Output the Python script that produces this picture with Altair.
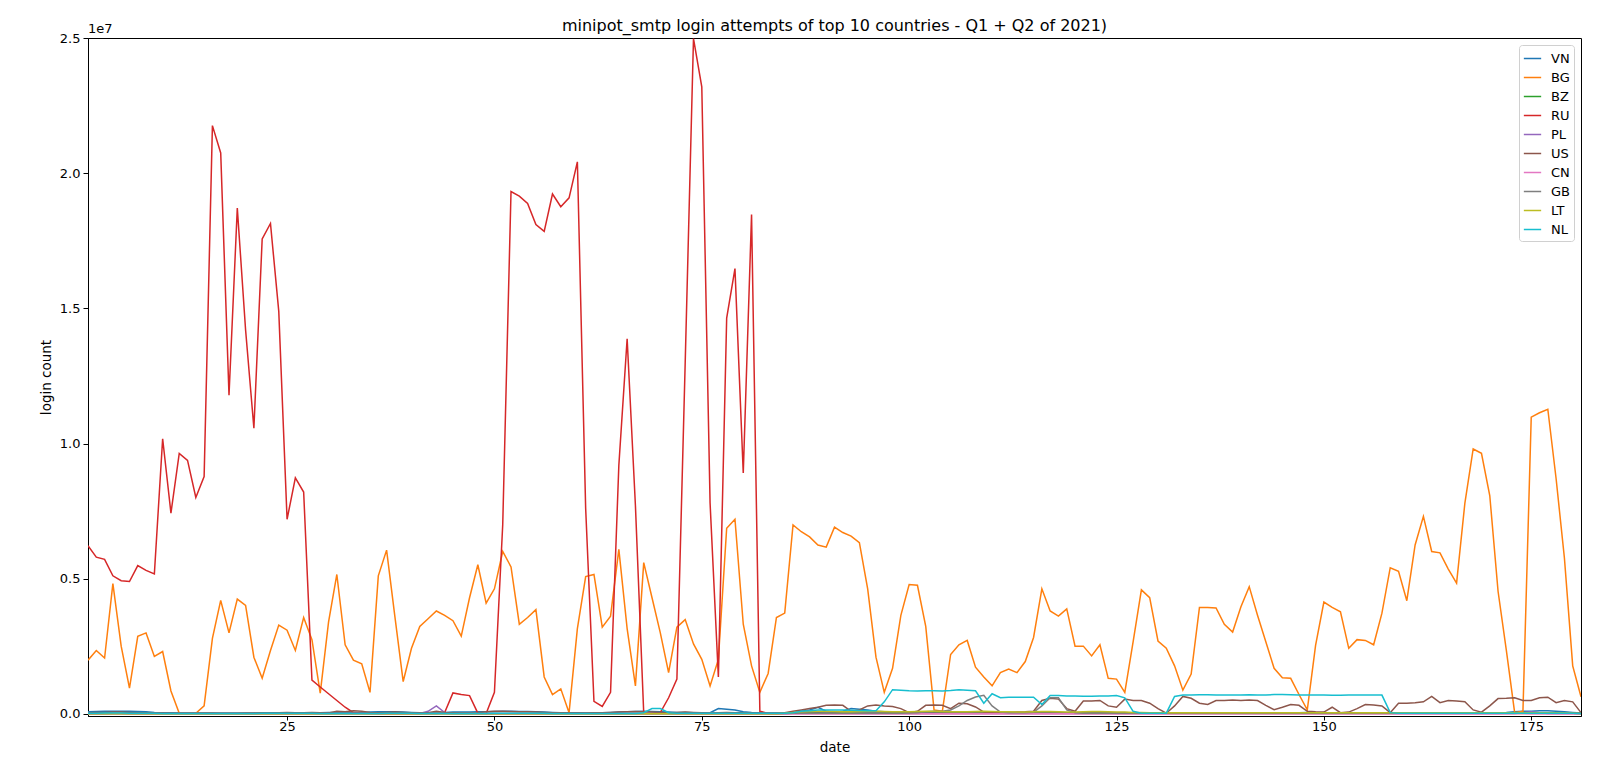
import altair as alt
import pandas as pd

days = list(range(1, 182))
countries = ["VN", "BG", "BZ", "RU", "PL", "US", "CN", "GB", "LT", "NL"]
colors = ["#1f77b4", "#ff7f0e", "#2ca02c", "#d62728", "#9467bd",
          "#8c564b", "#e377c2", "#7f7f7f", "#bcbd22", "#17becf"]
x_ticks = [25, 50, 75, 100, 125, 150, 175]
y_ticks = [0, 5e6, 1e7, 1.5e7, 2e7, 2.5e7]

# values in millions of login attempts, day 1..181
RU = [6.22, 5.80, 5.72, 5.11, 4.93, 4.90, 5.49, 5.31, 5.18, 10.18,
      7.43, 9.64, 9.38, 8.01, 8.78, 21.76, 20.75, 11.79, 18.71, 14.2,
      10.57, 17.57, 18.14, 14.89, 7.2, 8.73, 8.21, 1.25, 1.0, 0.75,
      0.5, 0.25, 0.05, 0.03, 0.03, 0.02, 0.03, 0.02, 0.03, 0.02,
      0.02, 0.03, 0.02, 0.05, 0.78, 0.72, 0.68, 0.03, 0.02, 0.8,
      7.0, 19.32, 19.15, 18.88, 18.1, 17.85, 19.23, 18.76, 19.09, 20.42,
      7.6, 0.47, 0.28, 0.8, 9.2, 13.88, 7.7, 0.03, 0.02, 0.05,
      0.6, 1.29, 13.0, 24.98, 23.19, 7.8, 1.37, 14.64, 16.47, 8.91,
      18.47, 0.1, 0.02, 0.02, 0.02, 0.02, 0.02, 0.02, 0.02, 0.02,
      0.02, 0.02, 0.02, 0.02, 0.02, 0.02, 0.02, 0.02, 0.02, 0.02,
      0.02, 0.02, 0.02, 0.02, 0.02, 0.02, 0.02, 0.02, 0.02, 0.02,
      0.02, 0.02, 0.02, 0.02, 0.02, 0.02, 0.02, 0.02, 0.02, 0.02,
      0.02, 0.02, 0.02, 0.02, 0.02, 0.02, 0.02, 0.02, 0.02, 0.02,
      0.02, 0.02, 0.02, 0.02, 0.02, 0.02, 0.02, 0.02, 0.02, 0.02,
      0.02, 0.02, 0.02, 0.02, 0.02, 0.02, 0.02, 0.02, 0.02, 0.02,
      0.02, 0.02, 0.02, 0.02, 0.02, 0.02, 0.02, 0.02, 0.02, 0.02,
      0.02, 0.02, 0.02, 0.02, 0.02, 0.02, 0.02, 0.02, 0.02, 0.02,
      0.02, 0.02, 0.02, 0.02, 0.02, 0.02, 0.02, 0.02, 0.02, 0.02,
      0.02]

BG = [1.99, 2.35, 2.07, 4.82, 2.51, 0.96, 2.87, 3.0, 2.13, 2.31,
      0.85, 0.03, 0.02, 0.03, 0.3, 2.8, 4.2, 3.0, 4.25, 4.02,
      2.1, 1.32, 2.35, 3.29, 3.1, 2.35, 3.57, 2.75, 0.77, 3.4,
      5.16, 2.56, 1.99, 1.86, 0.8, 5.11, 6.06, 3.6, 1.2, 2.43,
      3.24, 3.52, 3.81, 3.65, 3.45, 2.88, 4.3, 5.52, 4.1, 4.63,
      6.01, 5.44, 3.32, 3.57, 3.86, 1.37, 0.72, 0.93, 0.05, 3.16,
      5.08, 5.16, 3.21, 3.62, 6.09, 3.16, 1.04, 5.6, 4.3, 3.0,
      1.53, 3.21, 3.49, 2.59, 2.02, 1.04, 2.02, 6.87, 7.2, 3.32,
      1.78, 0.8, 1.5, 3.57, 3.73, 6.99, 6.74, 6.55, 6.25, 6.17,
      6.91, 6.71, 6.58, 6.34, 4.63, 2.1, 0.8, 1.69, 3.65, 4.79,
      4.76, 3.24, 0.15, 0.1, 2.2, 2.56, 2.72, 1.73, 1.37, 1.04,
      1.53, 1.66, 1.53, 1.94, 2.83, 4.63, 3.81, 3.62, 3.89, 2.51,
      2.51, 2.15, 2.56, 1.32, 1.29, 0.8, 2.67, 4.59, 4.3, 2.7,
      2.43, 1.78, 0.88, 1.48, 3.94, 3.94, 3.92, 3.32, 3.03, 3.97,
      4.71, 3.65, 2.67, 1.69, 1.34, 1.32, 0.72, 0.15, 2.54, 4.14,
      3.94, 3.78, 2.43, 2.75, 2.72, 2.56, 3.73, 5.41, 5.28, 4.19,
      6.25, 7.31, 6.01, 5.96, 5.36, 4.84, 7.8, 9.8, 9.64, 8.08,
      4.54, 2.35, 0.05, 0.1, 10.98, 11.14, 11.27, 8.7, 5.77, 1.78,
      0.64]

US = [0.05, 0.06, 0.06, 0.07, 0.07, 0.06, 0.05, 0.05, 0.04, 0.04,
      0.03, 0.03, 0.03, 0.03, 0.04, 0.04, 0.03, 0.03, 0.03, 0.04,
      0.04, 0.05, 0.04, 0.05, 0.06, 0.05, 0.05, 0.06, 0.05, 0.04,
      0.1, 0.08, 0.12, 0.1, 0.06, 0.05, 0.06, 0.07, 0.06, 0.05,
      0.04, 0.05, 0.1, 0.06, 0.05, 0.04, 0.04, 0.05, 0.08, 0.1,
      0.1, 0.09, 0.08, 0.08, 0.07, 0.06, 0.05, 0.05, 0.04, 0.04,
      0.04, 0.05, 0.05, 0.06, 0.07, 0.08, 0.09, 0.08, 0.07, 0.06,
      0.05, 0.06, 0.07, 0.06, 0.05, 0.04, 0.05, 0.06, 0.05, 0.05,
      0.04, 0.03, 0.03, 0.04, 0.05, 0.1, 0.15, 0.2, 0.25, 0.32,
      0.33, 0.32, 0.1, 0.15, 0.3, 0.33, 0.3, 0.28, 0.2, 0.05,
      0.1, 0.32, 0.33, 0.32, 0.2, 0.4, 0.38, 0.26, 0.07, 0.05,
      0.05, 0.06, 0.07, 0.08, 0.1, 0.5, 0.58, 0.55, 0.2, 0.1,
      0.48, 0.48, 0.5, 0.3, 0.25, 0.55, 0.5, 0.5, 0.4, 0.2,
      0.03, 0.3, 0.65, 0.58, 0.4, 0.35, 0.5, 0.5, 0.52, 0.5,
      0.52, 0.5, 0.32, 0.16, 0.25, 0.35, 0.32, 0.1, 0.08, 0.07,
      0.25, 0.05, 0.07, 0.2, 0.35, 0.33, 0.3, 0.05, 0.4, 0.4,
      0.42, 0.45, 0.65, 0.42, 0.5, 0.48, 0.45, 0.15, 0.07, 0.3,
      0.57, 0.58, 0.6, 0.5, 0.5, 0.6, 0.62, 0.42, 0.5, 0.45,
      0.05]

NL = [0.03, 0.03, 0.04, 0.04, 0.04, 0.03, 0.03, 0.03, 0.03, 0.02,
      0.02, 0.02, 0.02, 0.02, 0.02, 0.02, 0.02, 0.02, 0.02, 0.02,
      0.02, 0.03, 0.03, 0.03, 0.03, 0.03, 0.03, 0.03, 0.02, 0.02,
      0.02, 0.02, 0.02, 0.02, 0.02, 0.02, 0.03, 0.03, 0.03, 0.03,
      0.02, 0.02, 0.02, 0.02, 0.02, 0.02, 0.02, 0.02, 0.02, 0.03,
      0.03, 0.03, 0.03, 0.03, 0.03, 0.03, 0.02, 0.02, 0.02, 0.02,
      0.02, 0.02, 0.02, 0.02, 0.02, 0.02, 0.02, 0.05, 0.2, 0.2,
      0.05, 0.03, 0.03, 0.03, 0.03, 0.03, 0.03, 0.03, 0.03, 0.03,
      0.03, 0.03, 0.03, 0.03, 0.03, 0.05, 0.1, 0.12, 0.15, 0.15,
      0.15, 0.15, 0.14, 0.13, 0.12, 0.12, 0.45, 0.9, 0.88, 0.86,
      0.85, 0.86, 0.86, 0.85, 0.87, 0.9, 0.88, 0.86, 0.4, 0.75,
      0.6, 0.62, 0.62, 0.62, 0.62, 0.35, 0.68, 0.68, 0.67, 0.67,
      0.66, 0.66, 0.67, 0.67, 0.68, 0.6, 0.1, 0.03, 0.03, 0.03,
      0.03, 0.65, 0.7, 0.7, 0.71, 0.71, 0.7, 0.7, 0.7, 0.7,
      0.71, 0.7, 0.7, 0.72, 0.72, 0.71, 0.7, 0.7, 0.7, 0.7,
      0.69, 0.69, 0.7, 0.7, 0.7, 0.7, 0.7, 0.05, 0.03, 0.03,
      0.03, 0.03, 0.03, 0.03, 0.03, 0.03, 0.03, 0.03, 0.03, 0.03,
      0.03, 0.03, 0.03, 0.03, 0.03, 0.03, 0.03, 0.03, 0.03, 0.03,
      0.02]

VN = [0.08, 0.09, 0.1, 0.1, 0.1, 0.1, 0.09, 0.08, 0.06, 0.05,
      0.05, 0.04, 0.04, 0.04, 0.03, 0.03, 0.03, 0.03, 0.03, 0.03,
      0.03, 0.04, 0.05, 0.05, 0.04, 0.05, 0.04, 0.05, 0.05, 0.06,
      0.06, 0.05, 0.05, 0.06, 0.07, 0.08, 0.08, 0.08, 0.07, 0.06,
      0.05, 0.05, 0.06, 0.06, 0.07, 0.07, 0.07, 0.08, 0.08, 0.09,
      0.1, 0.1, 0.09, 0.09, 0.08, 0.07, 0.06, 0.05, 0.05, 0.05,
      0.04, 0.04, 0.05, 0.06, 0.07, 0.08, 0.09, 0.1, 0.09, 0.08,
      0.07, 0.06, 0.06, 0.05, 0.04, 0.05, 0.2, 0.18, 0.15, 0.08,
      0.06, 0.05, 0.04, 0.03, 0.03, 0.05, 0.1, 0.15, 0.25, 0.1,
      0.06, 0.1, 0.2, 0.18, 0.15, 0.1, 0.08, 0.06, 0.05, 0.04,
      0.04, 0.03, 0.03, 0.03, 0.03, 0.03, 0.03, 0.03, 0.03, 0.03,
      0.03, 0.03, 0.03, 0.03, 0.03, 0.03, 0.03, 0.03, 0.03, 0.03,
      0.03, 0.03, 0.03, 0.03, 0.03, 0.03, 0.03, 0.03, 0.03, 0.03,
      0.03, 0.03, 0.03, 0.03, 0.03, 0.03, 0.03, 0.03, 0.03, 0.03,
      0.03, 0.03, 0.03, 0.03, 0.03, 0.04, 0.05, 0.06, 0.05, 0.04,
      0.04, 0.04, 0.04, 0.04, 0.04, 0.04, 0.04, 0.04, 0.04, 0.04,
      0.04, 0.04, 0.04, 0.04, 0.04, 0.04, 0.04, 0.04, 0.04, 0.04,
      0.05, 0.06, 0.08, 0.1, 0.1, 0.12, 0.12, 0.1, 0.08, 0.06,
      0.04]

GB = [0.02, 0.02, 0.02, 0.03, 0.03, 0.02, 0.02, 0.02, 0.02, 0.02,
      0.02, 0.02, 0.02, 0.02, 0.02, 0.02, 0.02, 0.02, 0.02, 0.02,
      0.02, 0.02, 0.02, 0.02, 0.02, 0.02, 0.02, 0.02, 0.02, 0.02,
      0.03, 0.03, 0.03, 0.03, 0.02, 0.02, 0.02, 0.02, 0.02, 0.02,
      0.02, 0.03, 0.05, 0.03, 0.02, 0.02, 0.02, 0.02, 0.02, 0.02,
      0.02, 0.02, 0.02, 0.02, 0.02, 0.02, 0.02, 0.02, 0.02, 0.02,
      0.02, 0.02, 0.02, 0.02, 0.02, 0.02, 0.02, 0.02, 0.02, 0.02,
      0.02, 0.02, 0.02, 0.02, 0.02, 0.02, 0.02, 0.02, 0.02, 0.02,
      0.02, 0.02, 0.02, 0.02, 0.02, 0.03, 0.03, 0.03, 0.03, 0.03,
      0.03, 0.03, 0.03, 0.03, 0.03, 0.03, 0.03, 0.03, 0.03, 0.04,
      0.05, 0.08, 0.1, 0.1, 0.15, 0.3, 0.5, 0.63, 0.69, 0.3,
      0.07, 0.05, 0.05, 0.05, 0.06, 0.3, 0.6, 0.6, 0.15, 0.05,
      0.03, 0.03, 0.03, 0.03, 0.03, 0.03, 0.03, 0.03, 0.03, 0.03,
      0.03, 0.03, 0.03, 0.03, 0.03, 0.03, 0.03, 0.03, 0.03, 0.03,
      0.03, 0.03, 0.03, 0.03, 0.03, 0.03, 0.03, 0.03, 0.03, 0.03,
      0.03, 0.03, 0.03, 0.03, 0.03, 0.03, 0.03, 0.03, 0.03, 0.03,
      0.03, 0.03, 0.03, 0.03, 0.03, 0.03, 0.03, 0.03, 0.03, 0.03,
      0.03, 0.03, 0.03, 0.03, 0.03, 0.03, 0.03, 0.03, 0.03, 0.03,
      0.02]

PL = [0.02, 0.02, 0.02, 0.02, 0.02, 0.02, 0.02, 0.02, 0.02, 0.02,
      0.02, 0.02, 0.02, 0.02, 0.02, 0.02, 0.02, 0.02, 0.02, 0.02,
      0.02, 0.02, 0.02, 0.02, 0.02, 0.02, 0.02, 0.02, 0.02, 0.02,
      0.02, 0.02, 0.02, 0.02, 0.02, 0.02, 0.02, 0.02, 0.02, 0.02,
      0.02, 0.1, 0.3, 0.05, 0.02, 0.02, 0.02, 0.02, 0.02, 0.02,
      0.02, 0.02, 0.02, 0.02, 0.02, 0.02, 0.02, 0.02, 0.02, 0.02,
      0.02, 0.02, 0.02, 0.02, 0.02, 0.02, 0.02, 0.02, 0.02, 0.02,
      0.02, 0.02, 0.02, 0.02, 0.02, 0.02, 0.02, 0.02, 0.02, 0.02,
      0.02, 0.02, 0.02, 0.02, 0.02, 0.02, 0.02, 0.02, 0.02, 0.02,
      0.02, 0.02, 0.02, 0.02, 0.02, 0.02, 0.02, 0.02, 0.02, 0.02,
      0.02, 0.02, 0.02, 0.02, 0.02, 0.02, 0.02, 0.02, 0.02, 0.02,
      0.02, 0.02, 0.02, 0.02, 0.02, 0.02, 0.02, 0.02, 0.02, 0.02,
      0.02, 0.02, 0.02, 0.02, 0.02, 0.02, 0.02, 0.02, 0.02, 0.02,
      0.02, 0.02, 0.02, 0.02, 0.02, 0.02, 0.02, 0.02, 0.02, 0.02,
      0.02, 0.02, 0.02, 0.02, 0.02, 0.02, 0.02, 0.02, 0.02, 0.02,
      0.02, 0.02, 0.02, 0.02, 0.02, 0.02, 0.02, 0.02, 0.02, 0.02,
      0.02, 0.02, 0.02, 0.02, 0.02, 0.02, 0.02, 0.02, 0.02, 0.02,
      0.02, 0.02, 0.02, 0.05, 0.08, 0.05, 0.02, 0.02, 0.02, 0.02,
      0.02]

BZ = [0.01, 0.01, 0.01, 0.01, 0.01, 0.01, 0.01, 0.01, 0.01, 0.01,
      0.01, 0.01, 0.01, 0.01, 0.01, 0.01, 0.01, 0.01, 0.01, 0.01,
      0.01, 0.01, 0.01, 0.01, 0.01, 0.01, 0.01, 0.01, 0.01, 0.01,
      0.01, 0.01, 0.01, 0.01, 0.01, 0.01, 0.01, 0.01, 0.01, 0.01,
      0.01, 0.01, 0.01, 0.01, 0.01, 0.01, 0.01, 0.01, 0.01, 0.01,
      0.01, 0.01, 0.01, 0.01, 0.01, 0.01, 0.01, 0.01, 0.01, 0.01,
      0.01, 0.01, 0.01, 0.01, 0.01, 0.01, 0.01, 0.01, 0.01, 0.01,
      0.01, 0.01, 0.01, 0.01, 0.01, 0.01, 0.01, 0.01, 0.01, 0.01,
      0.01, 0.01, 0.01, 0.01, 0.02, 0.03, 0.04, 0.05, 0.05, 0.04,
      0.04, 0.04, 0.04, 0.04, 0.04, 0.04, 0.04, 0.04, 0.04, 0.04,
      0.04, 0.04, 0.04, 0.04, 0.04, 0.04, 0.04, 0.04, 0.04, 0.04,
      0.04, 0.04, 0.04, 0.04, 0.04, 0.04, 0.04, 0.04, 0.04, 0.04,
      0.04, 0.04, 0.04, 0.04, 0.04, 0.04, 0.04, 0.04, 0.04, 0.04,
      0.04, 0.04, 0.04, 0.04, 0.04, 0.04, 0.04, 0.04, 0.04, 0.04,
      0.04, 0.04, 0.04, 0.04, 0.04, 0.04, 0.04, 0.04, 0.04, 0.04,
      0.03, 0.03, 0.03, 0.03, 0.03, 0.03, 0.03, 0.03, 0.03, 0.03,
      0.03, 0.03, 0.03, 0.03, 0.03, 0.03, 0.03, 0.03, 0.03, 0.03,
      0.03, 0.03, 0.03, 0.03, 0.03, 0.03, 0.03, 0.03, 0.03, 0.03,
      0.02]

CN = [0.01, 0.01, 0.01, 0.01, 0.01, 0.01, 0.01, 0.01, 0.01, 0.01,
      0.01, 0.01, 0.01, 0.01, 0.01, 0.01, 0.01, 0.01, 0.01, 0.01,
      0.01, 0.01, 0.01, 0.01, 0.01, 0.01, 0.01, 0.01, 0.01, 0.01,
      0.01, 0.01, 0.01, 0.01, 0.01, 0.01, 0.01, 0.01, 0.01, 0.01,
      0.01, 0.01, 0.01, 0.01, 0.01, 0.01, 0.01, 0.01, 0.01, 0.01,
      0.01, 0.01, 0.01, 0.01, 0.01, 0.01, 0.01, 0.01, 0.01, 0.01,
      0.01, 0.01, 0.01, 0.01, 0.01, 0.01, 0.01, 0.01, 0.01, 0.01,
      0.01, 0.01, 0.01, 0.01, 0.01, 0.01, 0.01, 0.01, 0.01, 0.01,
      0.01, 0.01, 0.01, 0.01, 0.01, 0.01, 0.01, 0.01, 0.01, 0.01,
      0.01, 0.01, 0.01, 0.01, 0.01, 0.01, 0.01, 0.01, 0.01, 0.01,
      0.01, 0.01, 0.01, 0.01, 0.01, 0.01, 0.01, 0.01, 0.01, 0.01,
      0.01, 0.01, 0.01, 0.01, 0.01, 0.01, 0.01, 0.01, 0.01, 0.01,
      0.01, 0.01, 0.01, 0.01, 0.01, 0.01, 0.01, 0.01, 0.01, 0.01,
      0.01, 0.01, 0.01, 0.01, 0.01, 0.01, 0.01, 0.01, 0.01, 0.01,
      0.01, 0.01, 0.01, 0.01, 0.01, 0.01, 0.01, 0.01, 0.01, 0.01,
      0.01, 0.01, 0.01, 0.01, 0.01, 0.01, 0.01, 0.01, 0.01, 0.01,
      0.01, 0.01, 0.01, 0.01, 0.01, 0.01, 0.01, 0.01, 0.01, 0.01,
      0.01, 0.02, 0.03, 0.02, 0.01, 0.01, 0.01, 0.01, 0.01, 0.01,
      0.01]

LT = [0.01, 0.01, 0.01, 0.01, 0.01, 0.01, 0.01, 0.01, 0.01, 0.01,
      0.01, 0.01, 0.01, 0.01, 0.01, 0.01, 0.01, 0.01, 0.01, 0.01,
      0.01, 0.01, 0.01, 0.01, 0.01, 0.01, 0.01, 0.01, 0.01, 0.01,
      0.01, 0.01, 0.01, 0.01, 0.01, 0.01, 0.01, 0.01, 0.01, 0.01,
      0.01, 0.01, 0.01, 0.01, 0.01, 0.01, 0.01, 0.01, 0.01, 0.01,
      0.01, 0.01, 0.01, 0.01, 0.01, 0.01, 0.01, 0.01, 0.01, 0.01,
      0.01, 0.01, 0.01, 0.01, 0.01, 0.01, 0.01, 0.01, 0.01, 0.01,
      0.01, 0.01, 0.01, 0.01, 0.01, 0.01, 0.01, 0.01, 0.01, 0.01,
      0.01, 0.01, 0.01, 0.01, 0.03, 0.06, 0.08, 0.09, 0.1, 0.1,
      0.09, 0.08, 0.08, 0.09, 0.1, 0.1, 0.09, 0.08, 0.08, 0.08,
      0.09, 0.1, 0.1, 0.09, 0.08, 0.08, 0.08, 0.09, 0.1, 0.09,
      0.08, 0.08, 0.07, 0.07, 0.08, 0.09, 0.09, 0.08, 0.07, 0.07,
      0.08, 0.09, 0.09, 0.08, 0.07, 0.07, 0.06, 0.06, 0.05, 0.05,
      0.05, 0.05, 0.05, 0.05, 0.05, 0.05, 0.05, 0.05, 0.05, 0.05,
      0.05, 0.05, 0.05, 0.05, 0.05, 0.05, 0.05, 0.05, 0.05, 0.05,
      0.05, 0.05, 0.05, 0.05, 0.05, 0.05, 0.05, 0.05, 0.05, 0.05,
      0.05, 0.05, 0.05, 0.05, 0.05, 0.05, 0.05, 0.05, 0.05, 0.05,
      0.05, 0.05, 0.05, 0.05, 0.05, 0.05, 0.05, 0.05, 0.04, 0.03,
      0.02]

series = {"VN": VN, "BG": BG, "BZ": BZ, "RU": RU, "PL": PL,
          "US": US, "CN": CN, "GB": GB, "LT": LT, "NL": NL}

rows = []
for c in countries:
    vals = series[c]
    assert len(vals) == len(days), (c, len(vals))
    for d, v in zip(days, vals):
        rows.append({"date": d, "country": c, "millions": v})
df = pd.DataFrame(rows)

FONT = "DejaVu Sans"

base = alt.Chart(df).transform_calculate(
    count="datum.millions * 1000000"
).mark_line(strokeWidth=1.5, clip=True).encode(
    x=alt.X("date:Q",
            scale=alt.Scale(domain=[1, 181], nice=False, zero=False),
            axis=alt.Axis(values=x_ticks, title="date", grid=False,
                          tickSize=4, labelPadding=0, titlePadding=7,
                          labelFontSize=13, titleFontSize=13.5,
                          labelColor="black", titleColor="black",
                          titleFontWeight="normal", domainColor="black",
                          tickColor="black")),
    y=alt.Y("count:Q",
            scale=alt.Scale(domain=[-74000, 25000000], nice=False, zero=False),
            axis=alt.Axis(values=y_ticks,
                          labelExpr="format(datum.value / 10000000, '.1f')",
                          title="login count", grid=False,
                          tickSize=5, labelPadding=3, titlePadding=6,
                          labelFontSize=13, titleFontSize=13.5,
                          labelColor="black", titleColor="black",
                          titleFontWeight="normal", domainColor="black",
                          tickColor="black")),
    color=alt.Color("country:N",
                    scale=alt.Scale(domain=countries, range=colors),
                    legend=alt.Legend(title=None, orient="top-right", offset=7,
                                      symbolType="stroke", symbolStrokeWidth=1.5,
                                      symbolSize=300, labelFontSize=13,
                                      labelColor="black", rowPadding=2,
                                      padding=4, fillColor="white",
                                      strokeColor="#d0d0d0", cornerRadius=3,
                                      labelOffset=9)),
)

layers = [base.transform_filter(alt.datum.country == c) for c in countries]

offset_text = alt.Chart(pd.DataFrame({"t": ["1e7"]})).mark_text(
    align="left", baseline="bottom", fontSize=13, font=FONT, color="black"
).encode(text="t:N", x=alt.value(0), y=alt.value(-2))

chart = alt.layer(*layers, offset_text).properties(
    width=1493,
    height=678,
    title=alt.TitleParams(
        "minipot_smtp login attempts of top 10 countries - Q1 + Q2 of 2021)",
        fontSize=16, font=FONT, fontWeight="normal", color="black",
        anchor="middle", offset=-11),
    padding={"left": 88, "top": 38, "right": 19, "bottom": 41},
    autosize="none",
).configure(font=FONT).configure_view(stroke="black", strokeWidth=1)

chart.save("out.html", embed_options={"renderer": "svg", "actions": False})
